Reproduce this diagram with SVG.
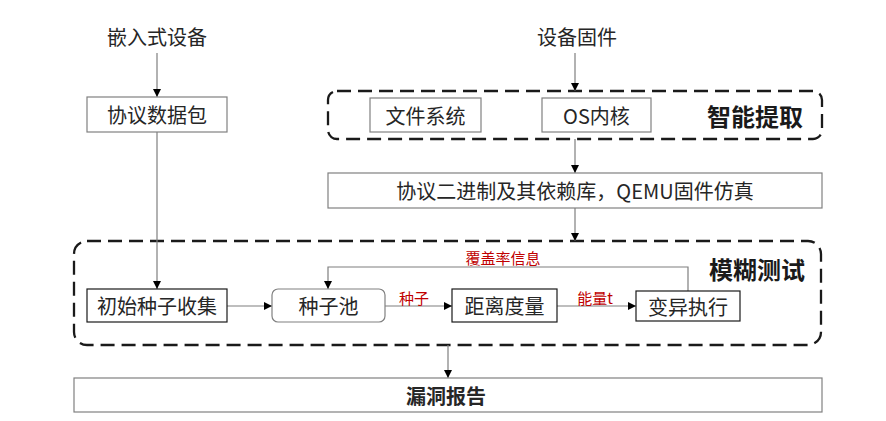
<svg xmlns="http://www.w3.org/2000/svg" width="886" height="421" viewBox="0 0 886 421">
  <style>
    text { font-family: "Noto Sans CJK SC", "Noto Sans", sans-serif; fill: #262626; }
    .lbl { font-size: 20px; text-anchor: middle; dominant-baseline: central; }
    .title { font-size: 24px; font-weight: bold; text-anchor: middle; dominant-baseline: central; fill: #1a1a1a; }
    .red { font-size: 15px; text-anchor: middle; dominant-baseline: central; fill: #c00000; }
    .box { fill: #ffffff; stroke: #808080; stroke-width: 1.2; }
    .dark { stroke: #1a1a1a; }
    .group { fill: none; stroke: #1a1a1a; stroke-width: 2.3; stroke-dasharray: 14 7; }
    .edge { fill: none; stroke: #7f7f7f; stroke-width: 1.2; }
  </style>
  <defs>
    <marker id="arrow" viewBox="0 0 10 10" refX="10" refY="5" markerWidth="8" markerHeight="8" markerUnits="userSpaceOnUse" orient="auto">
      <path d="M0,0 L10,5 L0,10 Z" fill="#000000"/>
    </marker>
  </defs>

  <rect width="886" height="421" fill="#ffffff"/>

  <!-- dashed stage frames -->
  <g id="stage-extract">
    <rect class="group" x="328" y="91" width="494" height="48" rx="9"/>
    <text class="title" x="755" y="115">智能提取</text>
  </g>
  <g id="stage-fuzz">
    <rect class="group" x="74" y="241" width="747" height="104" rx="13"/>
    <text class="title" x="757" y="268">模糊测试</text>
  </g>

  <!-- connectors -->
  <g id="connectors">
    <line class="edge" x1="157" y1="53" x2="157" y2="97" marker-end="url(#arrow)"/>
    <line class="edge" x1="157" y1="132" x2="157" y2="289" marker-end="url(#arrow)"/>
    <line class="edge" x1="575" y1="53" x2="575" y2="91" marker-end="url(#arrow)"/>
    <line class="edge" x1="575" y1="139" x2="575" y2="173" marker-end="url(#arrow)"/>
    <line class="edge" x1="575" y1="208" x2="575" y2="241" marker-end="url(#arrow)"/>
    <line class="edge" x1="227" y1="306" x2="272" y2="306" marker-end="url(#arrow)"/>
    <line class="edge" x1="385" y1="306" x2="452" y2="306" marker-end="url(#arrow)"/>
    <line class="edge" x1="557" y1="306" x2="636" y2="306" marker-end="url(#arrow)"/>
    <polyline class="edge" points="688,291 688,267 328,267 328,289" marker-end="url(#arrow)"/>
    <line class="edge" x1="448" y1="345" x2="448" y2="378" marker-end="url(#arrow)"/>
    <text class="red" x="414" y="297">种子</text>
    <text class="red" x="595" y="297">能量t</text>
    <text class="red" x="503" y="257">覆盖率信息</text>
  </g>

  <!-- nodes -->
  <g id="embedded-device">
    <text class="lbl" x="157" y="36">嵌入式设备</text>
  </g>
  <g id="device-firmware">
    <text class="lbl" x="577" y="36">设备固件</text>
  </g>
  <g id="protocol-packets">
    <rect class="box" x="87" y="97" width="140" height="35"/>
    <text class="lbl" x="157" y="114.5">协议数据包</text>
  </g>
  <g id="file-system">
    <rect class="box" x="370" y="98" width="111" height="34"/>
    <text class="lbl" x="425.5" y="115">文件系统</text>
  </g>
  <g id="os-kernel">
    <rect class="box" x="542" y="98" width="109" height="34"/>
    <text class="lbl" x="596.5" y="115">OS内核</text>
  </g>
  <g id="binary-emulation">
    <rect class="box" x="328" y="173" width="494" height="35"/>
    <text class="lbl" x="575" y="190.5">协议二进制及其依赖库，QEMU固件仿真</text>
  </g>
  <g id="seed-collection">
    <rect class="box dark" x="87" y="289" width="140" height="33"/>
    <text class="lbl" x="157" y="305.5">初始种子收集</text>
  </g>
  <g id="seed-pool">
    <rect class="box" x="272" y="289" width="113" height="33" rx="6"/>
    <text class="lbl" x="328.5" y="305.5">种子池</text>
  </g>
  <g id="distance-metric">
    <rect class="box dark" x="452" y="289" width="105" height="33"/>
    <text class="lbl" x="504.5" y="305.5">距离度量</text>
  </g>
  <g id="mutation-exec">
    <rect class="box dark" x="636" y="291" width="104" height="30"/>
    <text class="lbl" x="688" y="306">变异执行</text>
  </g>
  <g id="vuln-report">
    <rect class="box" x="74" y="378" width="748" height="34"/>
    <text class="lbl" x="446" y="395" font-weight="bold" fill="#1a1a1a">漏洞报告</text>
  </g>
</svg>
